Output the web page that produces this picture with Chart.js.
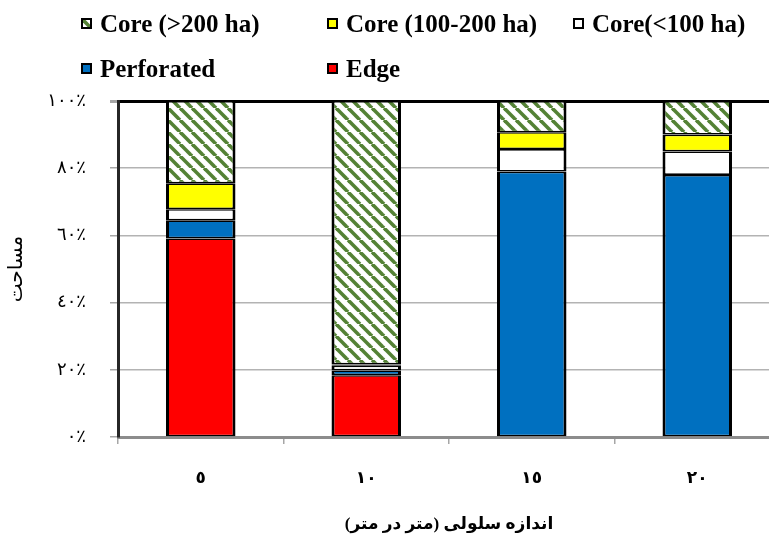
<!DOCTYPE html>
<html>
<head>
<meta charset="utf-8">
<script src="https://cdn.jsdelivr.net/npm/chart.js@4.4.1/dist/chart.umd.min.js"></script>
<style>
  html, body { margin: 0; padding: 0; background: #fff; overflow: hidden; }
  #wrap { position: relative; width: 769px; height: 539px; overflow: hidden; }
  #chart { position: absolute; left: 0; top: 0; }
  .leg { position: absolute; height: 11px; white-space: nowrap; }
  .leg i { position: absolute; left: 0; top: 0; width: 7px; height: 7px; border: 2px solid #000; }
  .leg span { position: absolute; left: 19px; top: 50%; transform: translateY(-52%);
    font: bold 25px "Liberation Serif", "Times New Roman", serif; color: #000; line-height: 1; }
</style>
</head>
<body>
<div id="wrap">
  <canvas id="chart" width="780" height="539"></canvas>
</div>
<script>
// cell size (m x m)
const categories = ['٥', '١٠', '١٥', '٢٠'];
// percent of area, bottom to top of each stack
const edge       = [59.1, 18.4, 0, 0];
const perforated = [5.4, 1.4, 79.0, 78.0];
const coreSmall  = [3.3, 1.4, 6.7, 7.0];
const coreMedium = [7.7, 0.4, 5.0, 5.0];
const coreLarge  = [24.5, 78.4, 9.3, 10.0];
const yTickLabels = ['٠٪', '٢٠٪', '٤٠٪', '٦٠٪', '٨٠٪', '١٠٠٪'];

const serif = '"Liberation Serif", "DejaVu Sans", serif';

// green wide downward diagonal hatch
function makeHatch() {
    const s = 12;
    const c = document.createElement('canvas');
    c.width = s; c.height = s;
    const g = c.getContext('2d');
    g.fillStyle = '#fff';
    g.fillRect(0, 0, s, s);
    g.strokeStyle = '#548235';
    g.lineWidth = 3.6;
    for (let i = -1; i <= 1; i++) {
        g.beginPath();
        g.moveTo(i * s, 0);
        g.lineTo(i * s + s, s);
        g.stroke();
    }
    return c;
}
const hatchCanvas = makeHatch();
const hatch = document.getElementById('chart').getContext('2d').createPattern(hatchCanvas, 'repeat');

const series = [
    { label: 'Edge', data: edge, fill: '#ff0000' },
    { label: 'Perforated', data: perforated, fill: '#0070c0' },
    { label: 'Core(<100 ha)', data: coreSmall, fill: '#ffffff' },
    { label: 'Core (100-200 ha)', data: coreMedium, fill: '#ffff00' },
    { label: 'Core (>200 ha)', data: coreLarge, fill: hatch }
];

const datasets = series.map(s => ({
    label: s.label,
    data: s.data,
    backgroundColor: s.fill,
    borderColor: '#000',
    borderWidth: { left: 3, right: 3, top: 1.6, bottom: 1.6 },
    borderSkipped: false,
    categoryPercentage: 1,
    barPercentage: 0.42
}));

const ctx = document.getElementById('chart').getContext('2d');
const chart = new Chart(ctx, {
    type: 'bar',
    data: {
        labels: categories,
        datasets: datasets
    },
    options: {
        responsive: false,
        animation: false,
        layout: { padding: { top: 101, left: 0, right: 0, bottom: 0 } },
        scales: {
            x: {
                stacked: true,
                ticks: { padding: 24, color: '#000', font: { family: serif, size: 17, weight: 'bold' } },
                grid: { drawOnChartArea: false, tickLength: 7, color: '#a6a6a6', lineWidth: 1.5 },
                border: { color: '#8c8c8c', width: 3 },
                title: {
                    display: true,
                    text: 'اندازه سلولی (متر در متر)',
                    color: '#000',
                    font: { family: serif, size: 17, weight: 'bold' },
                    padding: { top: 0, bottom: 4 }
                },
                afterFit: s => { s.height = 102; }
            },
            y: {
                stacked: true,
                min: 0,
                max: 100,
                ticks: {
                    stepSize: 20,
                    padding: 24,
                    color: '#000',
                    font: { family: serif, size: 18 },
                    callback: (v, i) => yTickLabels[i]
                },
                grid: {
                    color: c => (c.tick && c.tick.value === 100) ? '#000' : '#b3b3b3',
                    lineWidth: c => (c.tick && c.tick.value === 100) ? 3 : 1.5,
                    tickColor: '#a6a6a6',
                    tickLength: 8
                },
                border: { color: '#262626', width: 3 },
                title: {
                    display: true,
                    text: 'مساحت',
                    color: '#000',
                    font: { family: serif, size: 20 },
                    padding: { top: 5, bottom: 0 }
                },
                afterFit: s => { s.width = 118; }
            }
        },
        plugins: {
            legend: { display: false },
            tooltip: { enabled: false }
        }
    }
});

// legend drawn as html, laid out in columns like the original
const legendSpots = [[81, 18], [327, 18], [573, 18], [81, 63], [327, 63]];
const legendOrder = [4, 3, 2, 1, 0];
const wrap = document.getElementById('wrap');
legendOrder.forEach((di, k) => {
    const item = document.createElement('div');
    item.className = 'leg';
    item.style.left = legendSpots[k][0] + 'px';
    item.style.top = legendSpots[k][1] + 'px';
    const box = document.createElement('i');
    const fill = series[di].fill;
    if (typeof fill === 'string') {
        box.style.background = fill;
    } else {
        box.style.backgroundImage = 'url(' + hatchCanvas.toDataURL() + ')';
    }
    const txt = document.createElement('span');
    txt.textContent = series[di].label;
    item.appendChild(box);
    item.appendChild(txt);
    wrap.appendChild(item);
});
</script>
</body>
</html>
